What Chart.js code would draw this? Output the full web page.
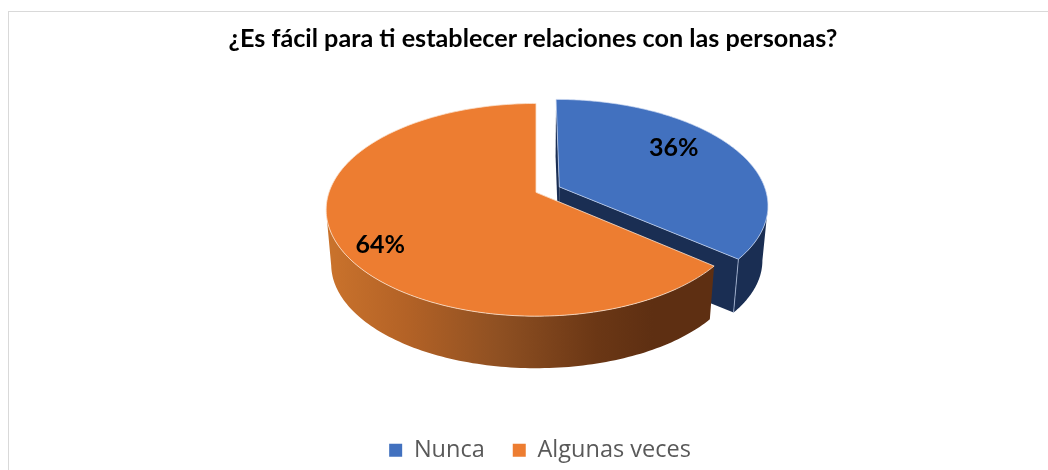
<!DOCTYPE html>
<html>
<head>
<meta charset="utf-8">
<title>Relaciones</title>
<script src="https://cdn.jsdelivr.net/npm/chart.js@4"></script>
<style>
  html, body { margin: 0; background: #fff; overflow: hidden; width: 1048px; height: 470px; }
  #card { position: absolute; left: 8px; top: 11px; width: 1048px; height: 466px; border-top: 1px solid #d9d9d9; border-left: 1px solid #d9d9d9; }
  canvas { display: block; }
</style>
</head>
<body>
<div id="card"><canvas id="chart" width="1048" height="466"></canvas></div>
<script>
const categories = ["Nunca", "Algunas veces"];
const percentValues = [36, 64];
const chartTitle = "¿Es fácil para ti establecer relaciones con las personas?";

const sliceColors = ["#4271BF", "#ED7D31"];
const wallColor = "#1A2E53";

// 擬似3D: 円弧要素の角度を透視変換して描く
const pie3d = {
  id: "pie3d",
  afterLayout(chart, args, opts) {
    chart.legend.left += opts.legendShift;
    chart.legend.right += opts.legendShift;
  },
  beforeDatasetsDraw(chart, args, opts) {
    const ctx = chart.ctx;
    const arcs = chart.getDatasetMeta(0).data;

    arcs.forEach((arc, i) => {
      const { x, y, startAngle, endAngle, outerRadius } = arc.getProps(["x", "y", "startAngle", "endAngle", "outerRadius"]);
      const d = arc.options.offset / outerRadius;
      const mid = (startAngle + endAngle) / 2;
      const du = d * Math.cos(mid);
      const dv = -d * Math.sin(mid);

      const project = (u, v, lower) => {
        const s = 1 / (1 + opts.perspective * v);
        const k = lower ? opts.lowerScale : 1;
        return [
          x + opts.shiftX + outerRadius * k * u * s,
          y + opts.shiftY + (lower ? opts.depth : 0) - outerRadius * opts.tilt * k * v * s,
        ];
      };
      const rim = (a, lower) => project(du + Math.cos(a), dv - Math.sin(a), lower);
      const apex = (lower) => project(du, dv, lower);

      const angles = [];
      for (let n = 0; n <= 200; n++) angles.push(startAngle + ((endAngle - startAngle) * n) / 200);

      const trace = (points) => {
        ctx.beginPath();
        points.forEach((p, n) => (n ? ctx.lineTo(p[0], p[1]) : ctx.moveTo(p[0], p[1])));
        ctx.closePath();
      };

      const upper = angles.map((a) => rim(a, false));
      const lower = angles.map((a) => rim(a, true));

      // 手前側（xが減っていく範囲）だけ側面を塗る
      const front = angles.map((a, n) => n).filter((n) => n === 200 ? upper[200][0] < upper[199][0] : upper[n + 1][0] < upper[n][0]);
      const frontUpper = front.map((n) => upper[n]);
      const frontLower = front.map((n) => lower[n]);

      let wallFill = wallColor;
      if (i === 1) {
        const xs = frontLower.map((p) => p[0]);
        const g = ctx.createLinearGradient(Math.min(...xs), 0, Math.max(...xs), 0);
        g.addColorStop(0, "#C9722C");
        g.addColorStop(0.2, "#B36226");
        g.addColorStop(0.44, "#8F5022");
        g.addColorStop(0.7, "#6B3715");
        g.addColorStop(0.85, "#5E2F12");
        g.addColorStop(1, "#5E2F12");
        wallFill = g;
      }

      ctx.save();
      if (i === 0) {
        // 切り口
        ctx.fillStyle = wallColor;
        trace([apex(false), upper[200], lower[200], apex(true)]);
        ctx.fill();
        trace([apex(false), upper[0], lower[0], apex(true)]);
        ctx.fill();
      }
      ctx.fillStyle = wallFill;
      trace(frontUpper.concat(frontLower.slice().reverse()));
      ctx.fill();
      if (i === 0) {
        ctx.strokeStyle = "rgba(190,205,235,0.7)";
        ctx.lineWidth = 1;
        ctx.beginPath();
        ctx.moveTo(upper[200][0], upper[200][1]);
        ctx.lineTo(lower[200][0], lower[200][1]);
        ctx.stroke();
      }

      // 上面
      ctx.fillStyle = arc.options.backgroundColor;
      trace([apex(false)].concat(upper));
      ctx.fill();
      ctx.strokeStyle = i === 0 ? "rgba(205,218,242,0.7)" : "rgba(250,225,205,0.8)";
      ctx.lineWidth = 1;
      ctx.stroke();
      ctx.restore();
    });

    // ラベル
    ctx.save();
    ctx.font = opts.labelFont;
    ctx.fillStyle = "#000";
    ctx.textAlign = "center";
    ctx.textBaseline = "middle";
    arcs.forEach((arc, i) => {
      const { x, y, outerRadius } = arc.getProps(["x", "y", "outerRadius"]);
      const [u, v] = opts.labelSpots[i];
      const s = 1 / (1 + opts.perspective * v);
      ctx.fillText(
        percentValues[i] + "%",
        x + opts.shiftX + outerRadius * u * s,
        y + opts.shiftY - outerRadius * opts.tilt * v * s
      );
    });
    ctx.restore();
    return false;
  },
};

new Chart(document.getElementById("chart"), {
  type: "pie",
  data: {
    labels: categories,
    datasets: [
      {
        data: percentValues,
        backgroundColor: sliceColors,
        offset: [26, 0],
        borderWidth: 0,
        radius: 207,
      },
    ],
  },
  plugins: [pie3d],
  options: {
    responsive: false,
    animation: false,
    layout: { padding: { top: 12, bottom: 6 } },
    plugins: {
      title: {
        display: true,
        text: chartTitle,
        color: "#000",
        font: { family: "Lato", size: 25.2, weight: "bold" },
        padding: { top: 0, bottom: 20 },
      },
      legend: {
        position: "bottom",
        labels: {
          color: "#595959",
          font: { family: "Open Sans", size: 23.5 },
          boxWidth: 13,
          boxHeight: 13,
          padding: 28,
        },
      },
      tooltip: { enabled: false },
      pie3d: {
        perspective: 0.164,
        tilt: 0.5,
        lowerScale: 0.976,
        depth: 55,
        shiftX: 3,
        shiftY: -50,
        legendShift: 7,
        labelFont: "bold 25px Lato",
        labelSpots: [[0.715, 0.457], [-0.694, -0.472]],
      },
    },
  },
});
</script>
</body>
</html>
